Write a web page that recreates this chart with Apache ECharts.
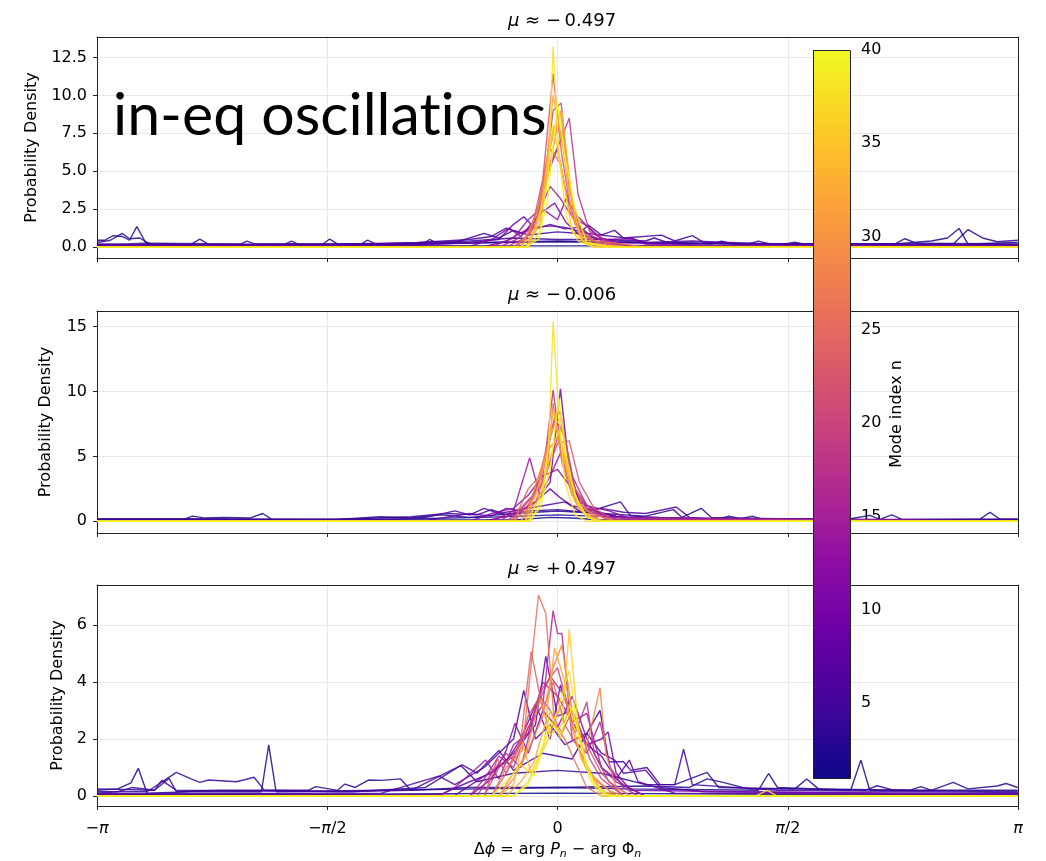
<!DOCTYPE html>
<html>
<head>
<meta charset="utf-8">
<script src="https://cdn.jsdelivr.net/npm/echarts@6/dist/echarts.min.js"></script>
<style>html,body{margin:0;padding:0;background:#fff;}#c{width:1046px;height:861px;}</style>
</head>
<body>
<div id="c"></div>
<script>
// ---------------- DATA ----------------
const PANEL_TITLES = ['−\u20090.497', '−\u20090.006', '+\u20090.497'];
const X_TICK_LABELS = ['−{i|π}', '−{i|π}/2', '0', '{i|π}/2', '{i|π}'];
const CBAR_RANGE = [1, 40];
const CBAR_TICKS = [5, 10, 15, 20, 25, 30, 35, 40];

// Panel 1 (mu ~ -0.497)
const top_modes = [1,2,3,4,5,6,8,10,12,14,16,18,20,22,24,26,28,30,32,34,36,38,40];
const top_lines = [
 [[-3.14,0.1],[-0.3,0.08],[0.3,0.08],[3.14,0.1]],
 [[-3.14,0.45],[-3.09,0.45],[-3.03,0.75],[-2.97,0.7],[-2.92,0.45],[-2.87,1.35],[-2.81,0.3],[-2.75,0.15],[-2.2,0.15],[-1.55,0.15],[-0.9,0.2],[-0.4,0.3],[0,0.35],[0.5,0.3],[1.2,0.2],[2.3,0.2],[2.55,0.4],[2.66,0.6],[2.74,1.23],[2.8,0.2],[3.14,0.3]],
 [[-3.14,0.3],[-3.05,0.45],[-2.97,0.9],[-2.92,0.55],[-2.85,0.6],[-2.78,0.2],[-2.5,0.18],[-2.44,0.53],[-2.38,0.18],[-1.6,0.2],[-1.554,0.53],[-1.5,0.2],[-0.92,0.2],[-0.873,0.5],[-0.82,0.25],[-0.5,0.3],[0,0.4],[0.4,0.3],[1.05,0.2],[1.12,0.39],[1.2,0.2],[2.7,0.2],[2.8,1.15],[2.9,0.6],[3.0,0.35],[3.14,0.45]],
 [[-3.14,0.2],[-2.95,0.2],[-2.81,0.25],[-2.16,0.2],[-2.12,0.39],[-2.06,0.2],[-1.34,0.2],[-1.295,0.46],[-1.24,0.2],[-0.6,0.4],[-0.3,0.6],[0,0.5],[0.3,0.5],[0.6,0.4],[0.66,0.6],[0.75,0.3],[1.3,0.2],[1.37,0.39],[1.45,0.2],[2.3,0.2],[2.37,0.55],[2.45,0.25],[3.14,0.2]],
 [[-3.14,0.15],[-1.87,0.15],[-1.815,0.39],[-1.76,0.15],[-1.0,0.2],[-0.7,0.3],[-0.5,0.9],[-0.4,0.6],[-0.3,1.1],[-0.2,0.8],[0,1.0],[0.15,0.9],[0.21,1.45],[0.3,0.8],[0.39,1.1],[0.45,0.6],[0.71,0.79],[0.8,0.4],[0.92,0.75],[1.0,0.3],[1.55,0.2],[1.62,0.32],[1.7,0.15],[3.14,0.15]],
 [[-3.14,0.15],[-2.3,0.15],[-1.4,0.2],[-0.95,0.3],[-0.6,0.5],[-0.45,0.7],[-0.35,1.25],[-0.25,0.9],[-0.15,1.3],[-0.05,1.4],[0.05,1.3],[0.2,0.9],[0.51,0.55],[0.6,0.3],[0.92,0.4],[1.4,0.2],[3.14,0.15]],
 [[-3.14,0.1],[-1.0,0.1],[-0.6,0.3],[-0.4,0.5],[-0.3,1.5],[-0.23,2.0],[-0.15,1.2],[-0.05,1.5],[0.05,1.2],[0.15,1.3],[0.25,0.6],[0.4,0.4],[0.6,0.3],[1.0,0.1],[3.14,0.1]],
 [[-3.14,0.05],[-0.6,0.05],[-0.45,0.5],[-0.33,1.25],[-0.25,0.7],[-0.12,2.2],[-0.02,2.9],[0.06,1.6],[0.15,0.8],[0.3,0.5],[0.51,0.55],[0.6,0.2],[1.0,0.05],[3.14,0.05]],
 [[-3.14,0.02],[-0.5,0.02],[-0.35,0.4],[-0.2,1.2],[-0.1,2.5],[0,1.8],[0.06,3.2],[0.14,2.0],[0.25,0.9],[0.35,0.3],[0.5,0.05],[3.14,0.02]],
 [[-3.14,0.02],[-0.45,0.02],[-0.3,0.6],[-0.2,1.8],[-0.12,2.5],[-0.05,4],[0.02,3.2],[0.1,2.0],[0.2,1.4],[0.3,0.6],[0.45,0.1],[3.14,0.02]],
 [[-3.14,0],[-0.4,0],[-0.28,0.5],[-0.15,1.5],[-0.08,4.5],[0,6.5],[0.05,4],[0.12,1.6],[0.22,0.8],[0.35,0.2],[0.5,0],[3.14,0]],
 [[-3.14,0],[-0.35,0],[-0.22,0.6],[-0.12,2.2],[-0.05,5.5],[0.02,7],[0.08,8.5],[0.14,3.5],[0.22,1.0],[0.35,0.3],[0.5,0],[3.14,0]],
 [[-3.14,0],[-0.3,0],[-0.2,0.8],[-0.1,3.5],[-0.03,9],[0.025,9.5],[0.08,4],[0.15,1.2],[0.25,0.4],[0.4,0],[3.14,0]],
 [[-3.14,0],[-0.28,0],[-0.18,1],[-0.1,4.5],[-0.03,11.4],[0.03,6],[0.1,2],[0.2,0.6],[0.3,0.1],[0.45,0],[3.14,0]],
 [[-3.14,0],[-0.25,0],[-0.15,1.5],[-0.08,5.5],[-0.02,8],[0.04,7.5],[0.1,3],[0.18,0.8],[0.3,0.2],[0.5,0],[3.14,0]],
 [[-3.14,0],[-0.3,0],[-0.2,0.8],[-0.12,3],[-0.05,6.5],[0.02,5.5],[0.08,2.5],[0.15,1],[0.25,0.4],[0.45,0.2],[0.6,0],[3.14,0]],
 [[-3.14,0],[-0.25,0],[-0.15,2],[-0.07,4.5],[0,8],[0.06,6],[0.12,1.5],[0.2,0.3],[0.35,0],[3.14,0]],
 [[-3.14,0],[-0.22,0],[-0.12,1.5],[-0.05,6.6],[0.02,9],[0.08,4],[0.15,0.8],[0.25,0.2],[0.4,0],[3.14,0]],
 [[-3.14,0],[-0.2,0],[-0.1,3],[-0.03,10],[0.03,7],[0.1,2],[0.18,0.3],[0.3,0],[3.14,0]],
 [[-3.14,0],[-0.2,0],[-0.12,2],[-0.05,7],[0.03,8.9],[0.1,3],[0.16,0.5],[0.25,0],[3.14,0]],
 [[-3.14,0],[-0.25,0],[-0.15,1],[-0.08,4],[-0.03,8],[0.03,5],[0.1,1],[0.2,0.2],[0.5,0],[3.14,0]],
 [[-3.14,0],[-0.2,0],[-0.12,1],[-0.06,5],[-0.03,13.2],[0.01,6],[0.06,2],[0.14,0.4],[0.25,0],[3.14,0]],
 [[-3.14,0],[-0.22,0],[-0.13,0.5],[-0.07,3],[0,9.5],[0.05,6],[0.12,2.5],[0.2,0.3],[0.35,0],[3.14,0]]
];

// Panel 2 (mu ~ -0.006)
const mid_modes = [1,2,3,4,6,8,10,12,14,16,18,20,22,24,26,28,30,32,34,36,38,40];
const mid_lines = [
 [[-3.14,0.12],[-0.3,0.1],[-0.05,0.3],[0.1,0.25],[0.3,0.1],[3.14,0.12]],
 [[-3.14,0.15],[-2.55,0.15],[-2.49,0.4],[-2.4,0.25],[-2.28,0.3],[-2.1,0.25],[-2.01,0.6],[-1.95,0.15],[-1.0,0.2],[-0.5,0.3],[0,0.5],[0.5,0.3],[1.0,0.2],[2.0,0.2],[2.13,0.46],[2.2,0.15],[2.88,0.15],[2.95,0.7],[3.02,0.15],[3.14,0.15]],
 [[-3.14,0.2],[-2.3,0.2],[-1.5,0.15],[-1.21,0.35],[-1.0,0.25],[-0.8,0.5],[-0.6,0.3],[-0.3,0.6],[0,0.8],[0.3,0.6],[0.6,0.4],[0.79,0.9],[0.85,0.3],[0.98,1.0],[1.05,0.3],[1.5,0.2],[2.2,0.15],[2.28,0.5],[2.35,0.15],[3.14,0.18]],
 [[-3.14,0.1],[-1.5,0.15],[-1.0,0.35],[-0.75,0.6],[-0.55,0.5],[-0.45,0.9],[-0.35,0.5],[-0.2,0.8],[0.0,0.9],[0.2,0.7],[0.43,1.5],[0.5,0.4],[0.7,0.3],[1.1,0.2],[1.17,0.4],[1.25,0.2],[1.33,0.4],[1.4,0.15],[3.14,0.1]],
 [[-3.14,0.1],[-1.2,0.1],[-0.9,0.3],[-0.7,0.8],[-0.6,0.5],[-0.5,1.0],[-0.4,0.6],[-0.25,0.9],[-0.1,1.2],[0.05,1.5],[0.15,0.8],[0.3,1.0],[0.45,0.7],[0.6,0.6],[0.81,1.1],[0.9,0.3],[1.2,0.1],[3.14,0.1]],
 [[-3.14,0.05],[-0.9,0.05],[-0.6,0.6],[-0.45,0.4],[-0.35,1.0],[-0.25,0.8],[-0.15,1.5],[-0.05,2.5],[0.02,1.8],[0.1,1.2],[0.25,0.8],[0.4,0.4],[0.7,0.1],[3.14,0.05]],
 [[-3.14,0.02],[-0.5,0.02],[-0.3,0.5],[-0.15,1.5],[-0.05,3],[0.02,10.2],[0.08,4],[0.15,1.5],[0.3,0.6],[0.5,0.1],[3.14,0.02]],
 [[-3.14,0],[-0.6,0],[-0.45,0.6],[-0.3,1.0],[-0.2,2.0],[-0.1,3.5],[0,4],[0.08,2.8],[0.2,1.2],[0.35,0.8],[0.5,0.2],[3.14,0]],
 [[-3.14,0],[-0.45,0],[-0.3,0.8],[-0.19,4.9],[-0.12,2.0],[-0.05,3.5],[0.03,5.5],[0.1,2.5],[0.2,1.0],[0.35,0.3],[3.14,0]],
 [[-3.14,0],[-0.4,0],[-0.25,1.0],[-0.12,2.6],[-0.04,5],[0.03,7.5],[0.1,3.5],[0.2,1.2],[0.3,0.5],[0.45,0],[3.14,0]],
 [[-3.14,0],[-0.35,0],[-0.2,1.2],[-0.1,3.5],[-0.03,10.1],[0.03,5],[0.1,2],[0.2,0.8],[0.35,0.2],[3.14,0]],
 [[-3.14,0],[-0.3,0],[-0.18,1.5],[-0.1,4],[-0.02,8],[0.05,6.5],[0.12,2.5],[0.22,1],[0.35,0],[3.14,0]],
 [[-3.14,0],[-0.32,0],[-0.2,1.5],[-0.1,3],[0,6],[0.08,6.2],[0.15,3],[0.25,1],[0.4,0],[3.14,0]],
 [[-3.14,0],[-0.3,0],[-0.2,2.5],[-0.12,3.5],[-0.05,7],[0.02,8.5],[0.1,3],[0.2,0.8],[0.3,0],[3.14,0]],
 [[-3.14,0],[-0.25,0],[-0.15,1.5],[-0.07,4],[-0.03,9.1],[0.03,4.5],[0.1,2],[0.2,0.5],[0.3,0],[3.14,0]],
 [[-3.14,0],[-0.3,0],[-0.2,1.0],[-0.1,4.5],[-0.02,7.5],[0.05,5],[0.12,1.5],[0.25,0.5],[0.4,0],[3.14,0]],
 [[-3.14,0],[-0.25,0],[-0.15,2],[-0.06,5.5],[0.0,6.5],[0.06,4],[0.14,1],[0.25,0.2],[0.35,0],[3.14,0]],
 [[-3.14,0],[-0.22,0],[-0.12,3],[-0.04,7],[0.02,8],[0.08,3.5],[0.16,0.8],[0.3,0],[3.14,0]],
 [[-3.14,0],[-0.2,0],[-0.1,2.5],[-0.03,8.5],[0.03,5.7],[0.1,2],[0.2,0.3],[0.3,0],[3.14,0]],
 [[-3.14,0],[-0.22,0],[-0.12,1.8],[-0.05,5],[0.01,7],[0.07,4],[0.15,1],[0.25,0],[3.14,0]],
 [[-3.14,0],[-0.18,0],[-0.1,2],[-0.06,6],[-0.03,15.4],[0.01,8],[0.05,3],[0.12,0.5],[0.2,0],[3.14,0]],
 [[-3.14,0],[-0.2,0],[-0.12,1],[-0.05,4],[0.01,9.5],[0.06,5],[0.12,2],[0.2,0.3],[0.3,0],[3.14,0]]
];

// Panel 3 (mu ~ +0.497)
const bot_modes = [1,2,3,4,5,6,8,10,12,14,16,18,20,22,24,26,28,30,32,34,36,38,40];
const bot_lines = [
 [[-3.14,0.06],[-1.5,0.06],[0,0.1],[1.5,0.06],[3.14,0.06]],
 [[-3.14,0.2],[-3.0,0.25],[-2.91,0.46],[-2.86,0.97],[-2.8,0.1],[-2.5,0.15],[-2.02,0.15],[-1.97,1.79],[-1.92,0.15],[-1.2,0.2],[-0.5,0.25],[0,0.3],[0.5,0.25],[1.37,0.2],[1.44,0.79],[1.5,0.3],[2.0,0.2],[2.07,1.26],[2.13,0.2],[3.14,0.2]],
 [[-3.14,0.25],[-2.75,0.2],[-2.65,0.62],[-2.6,0.15],[-2.3,0.2],[-1.7,0.2],[-1.65,0.33],[-1.5,0.2],[-1.45,0.42],[-1.38,0.3],[-1.29,0.56],[-1.2,0.55],[-1.07,0.6],[-1.0,0.2],[-0.6,0.3],[0,0.3],[0.6,0.35],[0.9,0.3],[1.02,0.6],[1.13,0.48],[1.3,0.25],[1.62,0.25],[1.7,0.6],[1.78,0.25],[2.4,0.2],[2.48,0.33],[2.55,0.2],[2.7,0.48],[2.8,0.25],[3.0,0.35],[3.06,0.44],[3.14,0.3]],
 [[-3.14,0.15],[-2.8,0.15],[-2.6,0.83],[-2.5,0.6],[-2.44,0.48],[-2.38,0.56],[-2.19,0.5],[-2.07,0.66],[-2.0,0.2],[-1.4,0.15],[-0.9,0.3],[-0.66,1.07],[-0.55,0.5],[-0.3,0.8],[0,0.9],[0.3,0.8],[0.6,0.4],[0.8,0.4],[1.02,0.83],[1.1,0.3],[2.1,0.2],[2.18,0.36],[2.3,0.2],[3.14,0.15]],
 [[-3.14,0.1],[-3.0,0.15],[-2.9,0.3],[-2.75,0.2],[-2.7,0.55],[-2.6,0.2],[-1.5,0.15],[-1.0,0.2],[-0.65,1.09],[-0.55,0.8],[-0.4,1.6],[-0.3,0.9],[-0.1,1.5],[0.1,1.3],[0.29,3.0],[0.35,1.2],[0.45,1.2],[0.5,0.9],[0.61,1.0],[0.7,0.4],[0.8,0.4],[0.86,1.64],[0.92,0.4],[1.5,0.2],[3.14,0.12]],
 [[-3.14,0.08],[-1.2,0.1],[-0.81,0.7],[-0.7,0.4],[-0.5,1.0],[-0.3,2.0],[-0.23,3.7],[-0.15,2.0],[-0.05,2.5],[0.05,1.8],[0.2,2.2],[0.3,1.5],[0.39,1.26],[0.45,0.8],[0.6,0.91],[0.7,0.3],[1.0,0.15],[3.14,0.08]],
 [[-3.14,0.05],[-0.8,0.05],[-0.6,0.5],[-0.45,0.8],[-0.3,1.5],[-0.15,2.5],[-0.08,4.9],[0.0,2.8],[0.1,3.0],[0.2,1.8],[0.3,1.4],[0.4,0.6],[0.49,1.26],[0.55,0.5],[0.8,0.1],[3.14,0.05]],
 [[-3.14,0.02],[-0.7,0.02],[-0.5,0.7],[-0.35,1.2],[-0.25,2.0],[-0.15,3.2],[-0.05,2.0],[0.02,3.9],[0.1,2.6],[0.2,1.8],[0.3,2.0],[0.345,2.25],[0.4,0.8],[0.5,0.2],[3.14,0.02]],
 [[-3.14,0],[-0.6,0],[-0.45,0.6],[-0.35,1.6],[-0.29,2.55],[-0.2,1.5],[-0.1,3.0],[0,2.4],[0.1,3.5],[0.2,2.0],[0.3,1.0],[0.45,0.4],[0.6,0],[3.14,0]],
 [[-3.14,0],[-0.81,0],[-0.7,0.3],[-0.49,1.26],[-0.4,0.6],[-0.3,1.8],[-0.2,2.2],[-0.1,4],[0,3.5],[0.1,2.6],[0.2,2.9],[0.3,1.0],[0.4,0.5],[0.6,0],[3.14,0]],
 [[-3.14,0],[-0.6,0],[-0.5,0.6],[-0.4,1.4],[-0.3,1.0],[-0.2,2.4],[-0.1,3.2],[-0.03,6.5],[0.0,5.7],[0.03,5.7],[0.1,2.0],[0.2,1.5],[0.29,2.6],[0.36,1.0],[0.45,0.3],[0.55,0],[3.14,0]],
 [[-3.14,0],[-0.55,0],[-0.45,0.8],[-0.35,1.5],[-0.25,1.0],[-0.15,3.0],[-0.05,4.2],[0.05,3.5],[0.12,2.2],[0.2,3.3],[0.25,1.5],[0.35,0.5],[0.5,0],[3.14,0]],
 [[-3.14,0],[-0.5,0],[-0.4,1.0],[-0.3,1.4],[-0.18,2.6],[-0.1,3.8],[0,4.5],[0.07,3.2],[0.15,2.4],[0.22,1.3],[0.3,0.6],[0.45,0],[3.14,0]],
 [[-3.14,0],[-0.5,0],[-0.41,1.3],[-0.35,0.8],[-0.27,1.6],[-0.2,2.8],[-0.12,3.5],[-0.05,3.0],[0.03,2.2],[0.1,3.0],[0.18,2.0],[0.3,0.8],[0.45,0],[3.14,0]],
 [[-3.14,0],[-0.45,0],[-0.35,0.8],[-0.25,2.0],[-0.18,5.07],[-0.1,3.0],[-0.03,4.0],[0.05,2.5],[0.15,1.6],[0.25,0.6],[0.4,0],[3.14,0]],
 [[-3.14,0],[-0.45,0],[-0.35,1.0],[-0.24,1.6],[-0.13,7.05],[-0.08,6.4],[-0.02,2.5],[0.05,2.0],[0.12,1.2],[0.2,0.3],[0.3,0],[3.14,0]],
 [[-3.14,0],[-0.4,0],[-0.3,0.6],[-0.2,1.6],[-0.1,2.8],[-0.03,4.5],[0.03,5.3],[0.1,3.0],[0.18,1.5],[0.22,2.2],[0.29,3.8],[0.33,1.5],[0.4,0.3],[0.5,0],[3.14,0]],
 [[-3.14,0],[-0.4,0],[-0.3,0.8],[-0.22,1.4],[-0.12,3.4],[-0.05,2.2],[0.05,3.5],[0.12,2.0],[0.2,0.9],[0.35,0.2],[0.45,0],[3.14,0]],
 [[-3.14,0],[-0.35,0],[-0.25,0.5],[-0.16,1.2],[-0.08,2.6],[-0.02,5.2],[0.05,4.0],[0.12,2.6],[0.2,1.0],[0.3,0.2],[0.4,0],[3.14,0]],
 [[-3.14,0],[-0.4,0],[-0.3,0.4],[-0.24,1.9],[-0.18,0.8],[-0.1,1.7],[-0.05,3.0],[0.02,2.0],[0.08,3.2],[0.16,1.3],[0.25,0.5],[0.35,0],[3.14,0]],
 [[-3.14,0],[-0.3,0],[-0.2,0.5],[-0.12,1.4],[-0.04,2.2],[0.03,2.5],[0.08,5.85],[0.14,2.5],[0.2,1.0],[0.3,0.1],[0.4,0],[3.14,0]],
 [[-3.14,0],[-0.45,0],[-0.35,0.5],[-0.25,1.1],[-0.16,0.7],[-0.08,2.0],[0,3.0],[0.08,4.4],[0.15,2.0],[0.22,0.6],[0.3,0],[1.35,0],[1.43,0.2],[1.5,0],[3.14,0]],
 [[-3.14,0],[-0.3,0],[-0.2,0.4],[-0.12,1.5],[-0.05,2.6],[0.02,2.2],[0.1,3.1],[0.17,1.6],[0.25,0.4],[0.35,0],[3.14,0]]
];

// ---------------- STYLE / BUILD ----------------
const PLASMA = ['#0d0887','#41049d','#6a00a8','#8f0da4','#b12a90','#cc4778','#e16462','#f2844b','#fca636','#fcce25','#f0f921'];
function hex2rgb(h){return [parseInt(h.slice(1,3),16),parseInt(h.slice(3,5),16),parseInt(h.slice(5,7),16)];}
function plasma(t){
  t = Math.max(0, Math.min(1, t));
  const s = t * (PLASMA.length - 1);
  const i = Math.min(PLASMA.length - 2, Math.floor(s));
  const f = s - i;
  const a = hex2rgb(PLASMA[i]), b = hex2rgb(PLASMA[i+1]);
  const c = a.map((v,k)=>Math.round(v + (b[k]-v)*f));
  return 'rgb(' + c.join(',') + ')';
}
const FONT = 'DejaVu Sans';
const INK = '#222';
const GRIDC = '#e8e8e8';

const panels = [
  {modes: top_modes, lines: top_lines, ymin: -0.72, ymax: 13.85, step: 2.5, dec: 1, gap: 57},
  {modes: mid_modes, lines: mid_lines, ymin: -0.9, ymax: 16.2, step: 5, dec: 0, gap: 43},
  {modes: bot_modes, lines: bot_lines, ymin: -0.35, ymax: 7.4, step: 2, dec: 0, gap: 31}
];
const gridTops = [37, 311, 585];
const gridH = [221, 222, 221];

const grids = [], xAxes = [], yAxes = [], series = [], titles = [];
const spineX = [], spineY = [];
panels.forEach((p, k) => {
  grids.push({left: 97, right: 28, top: gridTops[k], height: gridH[k], show: false, containLabel: false});
  xAxes.push({
    type: 'value', gridIndex: k, min: -Math.PI, max: Math.PI, interval: Math.PI / 2,
    axisLine: {onZero: false, lineStyle: {color: INK, width: 1}},
    axisTick: {show: true, inside: false, length: 4, lineStyle: {color: INK}},
    splitLine: {show: true, showMinLine: false, showMaxLine: false, lineStyle: {color: GRIDC, width: 1}},
    axisLabel: {
      show: k === 2, margin: 15, color: '#000', fontSize: 16, fontFamily: FONT,
      formatter: v => X_TICK_LABELS[Math.round(v / (Math.PI / 2)) + 2],
      rich: {i: {fontStyle: 'italic', fontSize: 16, fontFamily: FONT, color: '#000'}}
    },
    name: k === 2 ? 'Δ{i|ϕ} = arg {i|P}{s|n} − arg Φ{s|n}' : '',
    nameLocation: 'middle', nameGap: 34,
    nameTextStyle: {color: '#000', fontSize: 16, fontFamily: FONT,
      rich: {i: {fontStyle: 'italic', fontSize: 16, fontFamily: FONT, color: '#000'},
             s: {fontStyle: 'italic', fontSize: 11, fontFamily: FONT, color: '#000', padding: [9, 0, 0, 0]}}}
  });
  yAxes.push({
    type: 'value', gridIndex: k, min: p.ymin, max: p.ymax, minInterval: p.step, maxInterval: p.step,
    axisLine: {show: true, onZero: false, lineStyle: {color: INK, width: 1}},
    axisTick: {show: true, inside: false, length: 4, lineStyle: {color: INK}},
    splitLine: {show: true, showMinLine: false, showMaxLine: false, lineStyle: {color: GRIDC, width: 1}},
    axisLabel: {color: '#000', fontSize: 16, fontFamily: FONT, margin: 10, showMinLabel: false, showMaxLabel: false,
      formatter: v => v.toFixed(p.dec)},
    name: 'Probability Density', nameLocation: 'middle', nameGap: p.gap,
    nameTextStyle: {color: '#000', fontSize: 16, fontFamily: FONT}
  });
  // top / right spines
  spineX.push({type: 'value', gridIndex: k, position: 'top', min: -Math.PI, max: Math.PI,
    axisLine: {show: true, onZero: false, lineStyle: {color: INK, width: 1}},
    axisTick: {show: false}, axisLabel: {show: false}, splitLine: {show: false}});
  spineY.push({type: 'value', gridIndex: k, position: 'right', min: p.ymin, max: p.ymax,
    axisLine: {show: true, onZero: false, lineStyle: {color: INK, width: 1}},
    axisTick: {show: false}, axisLabel: {show: false}, splitLine: {show: false}});
  titles.push({
    text: '{i|μ} ≈ ' + PANEL_TITLES[k], left: 557, top: gridTops[k] - 30, textAlign: 'center',
    textStyle: {color: '#000', fontSize: 18, fontWeight: 'normal', fontFamily: FONT,
      rich: {i: {fontStyle: 'italic', fontSize: 18, fontFamily: FONT, color: '#000'}}}
  });
  p.modes.forEach((n, i) => {
    series.push({
      type: 'line', xAxisIndex: k, yAxisIndex: k, data: p.lines[i],
      symbol: 'none', showSymbol: false, silent: true, animation: false, z: 2,
      lineStyle: {color: plasma((n - CBAR_RANGE[0]) / (CBAR_RANGE[1] - CBAR_RANGE[0])), width: 1.4, opacity: 0.85}
    });
  });
});

// colorbar (axis index 3)
grids.push({left: 813, width: 37, top: 50, height: 728, show: false});
xAxes.push({type: 'value', gridIndex: 3, min: 0, max: 1, show: false});
yAxes.push({
  type: 'value', gridIndex: 3, position: 'right', min: CBAR_RANGE[0], max: CBAR_RANGE[1],
  axisLine: {show: false},
  splitLine: {show: false},
  axisTick: {show: true, length: 4, inside: false, customValues: CBAR_TICKS, lineStyle: {color: INK}},
  axisLabel: {customValues: CBAR_TICKS, color: '#000', fontSize: 16, fontFamily: FONT, margin: 11},
  name: 'Mode index n', nameLocation: 'middle', nameGap: 39, nameRotate: 90,
  nameTextStyle: {color: '#000', fontSize: 16, fontFamily: FONT}
});
spineX.forEach(a => xAxes.push(a));
spineY.forEach(a => yAxes.push(a));

const cbStops = PLASMA.map((c, i) => ({offset: i / (PLASMA.length - 1), color: c}));
series.push({
  type: 'custom', xAxisIndex: 3, yAxisIndex: 3, z: 10, silent: true, animation: false,
  data: [[0, CBAR_RANGE[0], CBAR_RANGE[1]]],
  renderItem: (params, api) => {
    const p0 = api.coord([0, api.value(2)]);
    const p1 = api.coord([1, api.value(1)]);
    return {
      type: 'rect',
      shape: {x: Math.round(p0[0]) + 0.5, y: Math.round(p0[1]) + 0.5, width: Math.round(p1[0] - p0[0]), height: Math.round(p1[1] - p0[1])},
      style: {fill: new echarts.graphic.LinearGradient(0, 1, 0, 0, cbStops), stroke: INK, lineWidth: 1}
    };
  }
});

const chart = echarts.init(document.getElementById('c'), null, {renderer: 'canvas'});
chart.setOption({
  backgroundColor: '#fff',
  animation: false,
  title: titles,
  grid: grids,
  xAxis: xAxes,
  yAxis: yAxes,
  series: series,
  graphic: [{
    type: 'text', left: 113, top: 86, z: 100,
    style: {text: 'in-eq oscillat\u200Cions', font: '59px Lato', fill: '#000'}
  }]
});
</script>
</body>
</html>
